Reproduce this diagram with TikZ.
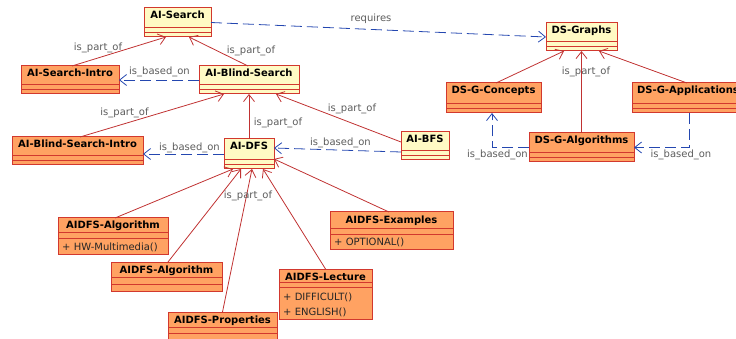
\documentclass[tikz,border=0pt]{standalone}
\usepackage{fontspec}
\setmainfont{DejaVu Sans}
\usetikzlibrary{arrows.meta,calc}

\definecolor{classyellow}{HTML}{FFFAC4}
\definecolor{classorange}{HTML}{FFA262}
\definecolor{classborder}{HTML}{D2382E}
\definecolor{partred}{HTML}{C03232}
\definecolor{basedblue}{HTML}{2447B0}
\definecolor{labelgrey}{HTML}{5C5C5C}

% A UML class: name, fill, left, top, right, bottom, first and second divider, title
\newcommand\classbox[9]{%
  \node[classframe, fill=#2, minimum width={(#5)-(#3)}, minimum height={(#6)-(#4)}] (#1) at (#3,#4) {};
  \draw[classline] (#3,#7) -- (#5,#7) (#3,#8) -- (#5,#8);
  \node[classname] (#1-name) at ({(#3+#5)/2},{#4+7.5}) {#9};
}

\begin{document}
\begin{tikzpicture}[x=1pt,y=-1pt,
  classframe/.style={draw=classborder, line width=1pt, inner sep=0pt, outer sep=0pt, anchor=north west},
  classline/.style={draw=classborder, line width=0.9pt},
  classname/.style={font=\fontsize{10}{12}\selectfont\bfseries, text=black, inner sep=0pt, text height=7pt, text depth=0pt},
  classop/.style={font=\fontsize{10}{12}\selectfont, text=black!85, inner sep=0pt, anchor=west, text height=7pt, text depth=0pt},
  rellabel/.style={font=\fontsize{10}{12}\selectfont, text=labelgrey, inner sep=0pt, text height=7pt, text depth=0pt},
  tipstyle/.style={-{Straight Barb[length=7pt,width=11pt,line width=0.8pt]}},
  partof/.style={draw=partred, line width=0.8pt, tipstyle},
  basedon/.style={draw=basedblue, line width=0.8pt, dash pattern=on 11pt off 5pt, tipstyle}]

\useasboundingbox (0,0) rectangle (736,339);
\clip (0,0) rectangle (736,339);

% classes
\classbox{aisearch}{classyellow}{144}{8}{211}{37}{27.5}{32}{AI-Search}
\classbox{blind}{classyellow}{199}{66}{299}{94}{84.5}{89}{AI-Blind-Search}
\classbox{intro}{classorange}{21}{66}{119}{94}{84.5}{89}{AI-Search-Intro}
\classbox{bsintro}{classorange}{12}{137}{143}{165}{155.5}{160}{AI-Blind-Search-Intro}
\classbox{aidfs}{classyellow}{224}{139}{274}{169}{159.5}{164}{AI-DFS}
\classbox{aibfs}{classyellow}{401}{132}{449}{160}{150.5}{155}{AI-BFS}
\classbox{dsgraphs}{classyellow}{546}{23}{617}{51}{41}{46}{DS-Graphs}
\classbox{dsconcepts}{classorange}{446}{83}{541}{113}{103.5}{108}{DS-G-Concepts}
\classbox{dsapps}{classorange}{632}{83}{744}{113}{103.5}{108}{DS-G-Applications}
\classbox{dsalgos}{classorange}{529}{133}{634}{162}{152.5}{157}{DS-G-Algorithms}
\classbox{alg1}{classorange}{58}{218}{168}{254}{232}{238}{AIDFS-Algorithm}
\classbox{alg2}{classorange}{111}{262}{222}{291}{277}{284}{AIDFS-Algorithm}
\classbox{props}{classorange}{168}{312}{277}{345}{327}{333}{AIDFS-Properties}
\classbox{lecture}{classorange}{279}{269}{372}{319}{282}{287.5}{AIDFS-Lecture}
\classbox{examples}{classorange}{330}{212}{453}{249}{228}{234}{AIDFS-Examples}

% operations
\node[classop] (alg1-op) at (62,246.5) {+ HW-Multimedia()};
\node[classop] (lecture-op1) at (283,297) {+ DIFFICULT()};
\node[classop] (lecture-op2) at (283,311.5) {+ ENGLISH()};
\node[classop] (examples-op) at (334,241.5) {+ OPTIONAL()};

% is_part_of relations
\draw[partof] ([xshift=2pt]intro.north) -- ([xshift=-11.5pt]aisearch.south);
\draw[partof] ([xshift=-1pt]blind.north) -- ([xshift=11.5pt]aisearch.south);
\draw[partof] ([xshift=2.5pt]bsintro.north) -- ([xshift=-25pt]blind.south);
\draw[partof] (aidfs.north) -- (aidfs.north |- blind.south);
\draw[partof] ([yshift=4pt]aibfs.west) -- ([xshift=27pt]blind.south);
\draw[partof] ([xshift=2.5pt]dsconcepts.north) -- ([xshift=-17.5pt]dsgraphs.south);
\draw[partof] (dsalgos.north) -- (dsalgos.north |- dsgraphs.south);
\draw[partof] ([xshift=55pt]dsapps.north west) -- ([xshift=17.5pt]dsgraphs.south);
\draw[partof] ([xshift=2pt]alg1.north) -- ([xshift=-16pt]aidfs.south);
\draw[partof] ([xshift=1.5pt]alg2.north) -- ([xshift=-8pt]aidfs.south);
\draw[partof] (props.north) -- ([xshift=3pt]aidfs.south);
\draw[partof] (lecture.north) -- ([xshift=14pt]aidfs.south);
\draw[partof] ([xshift=-2.5pt]examples.north) -- ([yshift=-5pt]aidfs.east);

% is_based_on / requires relations
\draw[basedon] (blind.west) -- (blind.west -| intro.east);
\draw[basedon] (aisearch.east) -- (dsgraphs.west);
\draw[basedon] ([yshift=-6pt]aibfs.west) -- ([yshift=6pt]aidfs.east);
\draw[basedon] (aidfs.west) -- (aidfs.west -| bsintro.east);
\draw[basedon] (dsalgos.west) -| ([xshift=-1.5pt]dsconcepts.south);
\draw[basedon] ([xshift=57pt]dsapps.south west) |- (dsalgos.east);

% relation labels
\node[rellabel] (lab-intro) at (98,47) {is\_part\_of};
\node[rellabel] (lab-blind) at (251,50) {is\_part\_of};
\node[rellabel] (lab-introbased) at (159.5,71) {is\_based\_on};
\node[rellabel] (lab-requires) at (371,18) {requires};
\node[rellabel] (lab-bsintro) at (124.5,112) {is\_part\_of};
\node[rellabel] (lab-dfs) at (278,122) {is\_part\_of};
\node[rellabel] (lab-bfs) at (352,108) {is\_part\_of};
\node[rellabel] (lab-bfsbased) at (340.5,142) {is\_based\_on};
\node[rellabel] (lab-dfsbased) at (189.5,147) {is\_based\_on};
\node[rellabel] (lab-dsalgos) at (586,71) {is\_part\_of};
\node[rellabel] (lab-conbased) at (497.5,154) {is\_based\_on};
\node[rellabel] (lab-appbased) at (681,154) {is\_based\_on};
\node[rellabel] (lab-aidfs) at (248,195) {is\_part\_of};

\end{tikzpicture}
\end{document}
